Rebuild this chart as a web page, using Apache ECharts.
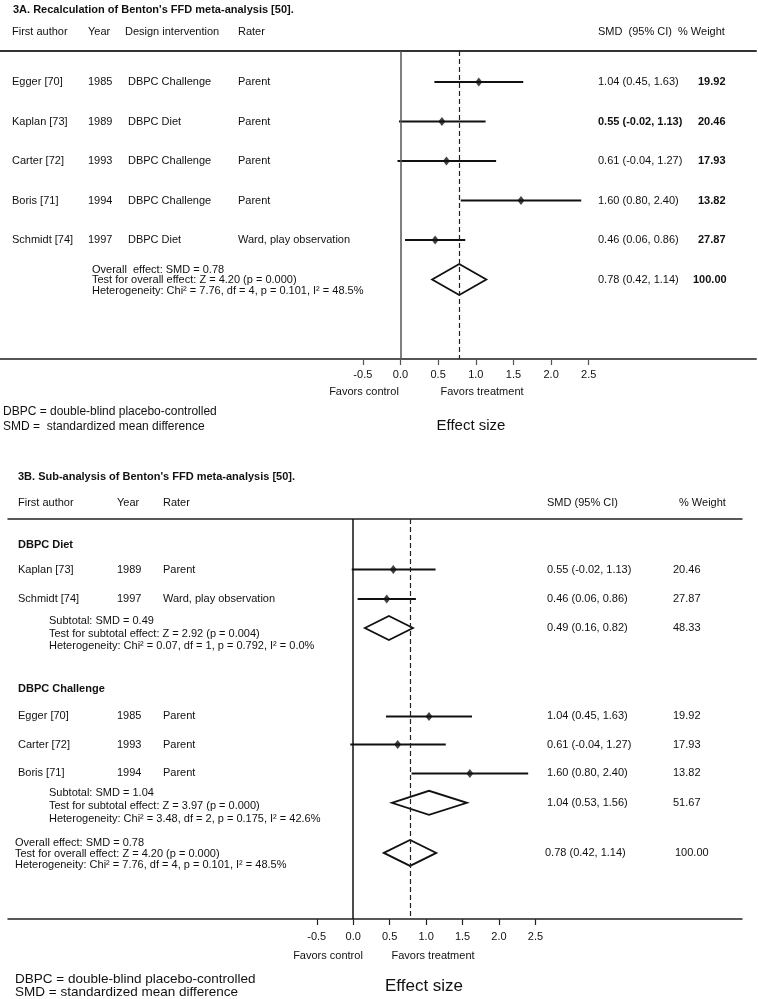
<!DOCTYPE html>
<html>
<head>
<meta charset="utf-8">
<script src="https://cdn.jsdelivr.net/npm/echarts@6/dist/echarts.min.js"></script>
<style>
  html, body { margin: 0; padding: 0; background: #fff; }
  #main { width: 758px; height: 999px; }
</style>
</head>
<body>
<div id="main"></div>
<script>
// ---- data: panel A (all five studies) ----
const authorsA = ['Egger [70]', 'Kaplan [73]', 'Carter [72]', 'Boris [71]', 'Schmidt [74]'];
const yearsA = ['1985', '1989', '1993', '1994', '1997'];
const designA = ['DBPC Challenge', 'DBPC Diet', 'DBPC Challenge', 'DBPC Challenge', 'DBPC Diet'];
const raterA = ['Parent', 'Parent', 'Parent', 'Parent', 'Ward, play observation'];
const smdA = [1.04, 0.55, 0.61, 1.60, 0.46];
const lowA = [0.45, -0.02, -0.04, 0.80, 0.06];
const highA = [1.63, 1.13, 1.27, 2.40, 0.86];
const weightA = ['19.92', '20.46', '17.93', '13.82', '27.87'];

// ---- data: panel B (grouped by design) ----
const groupsB = ['DBPC Diet', 'DBPC Challenge'];
const authorsB = ['Kaplan [73]', 'Schmidt [74]', 'Egger [70]', 'Carter [72]', 'Boris [71]'];
const yearsB = ['1989', '1997', '1985', '1993', '1994'];
const raterB = ['Parent', 'Ward, play observation', 'Parent', 'Parent', 'Parent'];
const smdB = [0.55, 0.46, 1.04, 0.61, 1.60];
const lowB = [-0.02, 0.06, 0.45, -0.04, 0.80];
const highB = [1.13, 0.86, 1.63, 1.27, 2.40];
const weightB = ['20.46', '27.87', '19.92', '17.93', '13.82'];
const subSmd = [0.49, 1.04];
const subLow = [0.16, 0.53];
const subHigh = [0.82, 1.56];
const subWeight = ['48.33', '51.67'];
const subStats = [
  ['Subtotal: SMD = 0.49', 'Test for subtotal effect: Z = 2.92 (p = 0.004)', 'Heterogeneity: Chi² = 0.07, df = 1, p = 0.792, I² = 0.0%'],
  ['Subtotal: SMD = 1.04', 'Test for subtotal effect: Z = 3.97 (p = 0.000)', 'Heterogeneity: Chi² = 3.48, df = 2, p = 0.175, I² = 42.6%']
];

// ---- overall pooled estimate (same in both panels) ----
const overallSmd = 0.78, overallLow = 0.42, overallHigh = 1.14, overallWeight = '100.00';
const overallStatsA = ['Overall  effect: SMD = 0.78', 'Test for overall effect: Z = 4.20 (p = 0.000)', 'Heterogeneity: Chi² = 7.76, df = 4, p = 0.101, I² = 48.5%'];
const overallStatsB = ['Overall effect: SMD = 0.78', 'Test for overall effect: Z = 4.20 (p = 0.000)', 'Heterogeneity: Chi² = 7.76, df = 4, p = 0.101, I² = 48.5%'];

const tickValues = [-0.5, 0, 0.5, 1, 1.5, 2, 2.5];

// ---- layout (pixels) ----
const LA = { left: 0, right: 756, top: 51, bottom: 359, zeroPx: 400.5, unitPx: 75.3, firstRow: 82, pitch: 39.5 };
const LB = { left: 8, right: 742, top: 519, bottom: 919, zeroPx: 353.2, unitPx: 72.9, firstRow: 569.5, pitch: 28.8 };
// row slots of panel B (in row pitches from first study)
const slotB = { dietHead: -0.85, studies: [0, 1.02, 5.1, 6.08, 7.08], subs: [2.03, 8.1], challHead: 4.15, overall: 9.84 };

const FONT = '"Liberation Sans", Arial, Helvetica, sans-serif';
const INK = '#111';

function xRange(L) {
  return [(L.left - L.zeroPx) / L.unitPx, (L.right - L.zeroPx) / L.unitPx];
}
function yRange(L) {
  return [(L.top - L.firstRow) / L.pitch, (L.bottom - L.firstRow) / L.pitch];
}

const chart = echarts.init(document.getElementById('main'), null, { renderer: 'canvas' });

function ciItem(params, api) {
  const y = api.value(2);
  const a = api.coord([api.value(0), y]);
  const b = api.coord([api.value(1), y]);
  return {
    type: 'line',
    shape: { x1: a[0], y1: a[1], x2: b[0], y2: b[1] },
    style: { stroke: INK, lineWidth: 2 }
  };
}
function diamondMaker(halfH) {
  return function (params, api) {
    const y = api.value(3);
    const c = api.coord([api.value(0), y]);
    const l = api.coord([api.value(1), y]);
    const r = api.coord([api.value(2), y]);
    return {
      type: 'polygon',
      shape: { points: [[l[0], l[1]], [c[0], c[1] - halfH], [r[0], r[1]], [c[0], c[1] + halfH]] },
      style: { fill: '#fff', stroke: INK, lineWidth: 1.8 }
    };
  };
}

function bottomAxis(gi, L, color, width, margin) {
  const r = xRange(L);
  return {
    type: 'value', gridIndex: gi, position: 'bottom', min: r[0], max: r[1],
    axisLine: { show: true, onZero: false, lineStyle: { color: color, width: width } },
    axisTick: { show: true, length: 6, customValues: tickValues, lineStyle: { color: color, width: 1.2 } },
    axisLabel: {
      show: true, customValues: tickValues, margin: margin,
      formatter: v => v.toFixed(1), color: INK, fontFamily: FONT, fontSize: 11
    },
    splitLine: { show: false }
  };
}
function topAxis(gi, L, color, width) {
  const r = xRange(L);
  return {
    type: 'value', gridIndex: gi, position: 'top', min: r[0], max: r[1],
    axisLine: { show: true, onZero: false, lineStyle: { color: color, width: width } },
    axisTick: { show: false }, axisLabel: { show: false }, splitLine: { show: false }
  };
}
function hiddenY(gi, L) {
  const r = yRange(L);
  return { type: 'value', gridIndex: gi, inverse: true, min: r[0], max: r[1], show: false, splitLine: { show: false } };
}
function refLines(zeroColor) {
  return {
    silent: true, symbol: ['none', 'none'], label: { show: false }, animation: false,
    data: [
      { xAxis: 0, lineStyle: { color: zeroColor, width: 1.5, type: 'solid' } },
      { xAxis: overallSmd, lineStyle: { color: '#222', width: 1.2, type: [5, 3] } }
    ]
  };
}

const rowsA = smdA.map((_, i) => i);
const overallRowA = smdA.length;

const option = {
  animation: false,
  grid: [
    { left: LA.left, width: LA.right - LA.left, top: LA.top, height: LA.bottom - LA.top },
    { left: LB.left, width: LB.right - LB.left, top: LB.top, height: LB.bottom - LB.top }
  ],
  xAxis: [
    bottomAxis(0, LA, '#555', 2, 10),
    topAxis(0, LA, '#333', 2),
    bottomAxis(1, LB, '#222', 1.5, 12),
    topAxis(1, LB, '#222', 1.5)
  ],
  yAxis: [hiddenY(0, LA), hiddenY(1, LB)],
  series: [
    {
      type: 'custom', xAxisIndex: 0, yAxisIndex: 0, renderItem: ciItem,
      data: rowsA.map(i => [lowA[i], highA[i], i]), silent: true
    },
    {
      type: 'scatter', xAxisIndex: 0, yAxisIndex: 0, symbol: 'diamond', symbolSize: [7, 9],
      itemStyle: { color: INK }, data: rowsA.map(i => [smdA[i], i]), silent: true,
      markLine: refLines('#555')
    },
    {
      type: 'custom', xAxisIndex: 0, yAxisIndex: 0, renderItem: diamondMaker(15.5),
      data: [[overallSmd, overallLow, overallHigh, overallRowA]], silent: true
    },
    {
      type: 'custom', xAxisIndex: 2, yAxisIndex: 1, renderItem: ciItem,
      data: smdB.map((_, i) => [lowB[i], highB[i], slotB.studies[i]]), silent: true
    },
    {
      type: 'scatter', xAxisIndex: 2, yAxisIndex: 1, symbol: 'diamond', symbolSize: [7, 9],
      itemStyle: { color: INK }, data: smdB.map((v, i) => [v, slotB.studies[i]]), silent: true,
      markLine: refLines('#111')
    },
    {
      type: 'custom', xAxisIndex: 2, yAxisIndex: 1, renderItem: diamondMaker(12),
      data: subSmd.map((v, g) => [v, subLow[g], subHigh[g], slotB.subs[g]]), silent: true
    },
    {
      type: 'custom', xAxisIndex: 2, yAxisIndex: 1, renderItem: diamondMaker(13),
      data: [[overallSmd, overallLow, overallHigh, slotB.overall]], silent: true
    }
  ]
};
chart.setOption(option);

// ---- texts (table columns, titles, notes) ----
function txt(x, y, s, o) {
  o = o || {};
  return {
    type: 'text', x: x, y: y, silent: true,
    style: {
      text: s, fill: INK,
      font: (o.bold ? 'bold ' : '') + (o.size || 11) + 'px ' + FONT,
      textAlign: o.align || 'left', textVerticalAlign: 'middle'
    }
  };
}
const fmtCI = (m, l, h) => m.toFixed(2) + ' (' + l.toFixed(2) + ', ' + h.toFixed(2) + ')';
const yA = r => chart.convertToPixel({ yAxisIndex: 0 }, r);
const yB = r => chart.convertToPixel({ yAxisIndex: 1 }, r);

const g = [];
// panel A header
g.push(txt(13, 10, "3A. Recalculation of Benton's FFD meta-analysis [50].", { bold: true }));
g.push(txt(12, 32, 'First author'), txt(88, 32, 'Year'), txt(125, 32, 'Design intervention'),
  txt(238, 32, 'Rater'), txt(598, 32, 'SMD  (95% CI)'), txt(678, 32, '% Weight'));
rowsA.forEach(i => {
  const y = yA(i);
  g.push(txt(12, y, authorsA[i]), txt(88, y, yearsA[i]), txt(128, y, designA[i]), txt(238, y, raterA[i]));
  g.push(txt(598, y, fmtCI(smdA[i], lowA[i], highA[i]), { bold: i === 1 }));
  g.push(txt(698, y, weightA[i], { bold: true }));
});
const yo = yA(overallRowA);
[-10, 0.5, 11].forEach((d, k) => g.push(txt(92, yo + d, overallStatsA[k], { size: 11 })));
g.push(txt(598, yo, fmtCI(overallSmd, overallLow, overallHigh)), txt(693, yo, overallWeight, { bold: true }));
g.push(txt(364, 392, 'Favors control', { align: 'center' }), txt(482, 392, 'Favors treatment', { align: 'center' }));
g.push(txt(3, 412, 'DBPC = double-blind placebo-controlled', { size: 12 }),
  txt(3, 427, 'SMD =  standardized mean difference', { size: 12 }));
g.push(txt(471, 426, 'Effect size', { size: 15, align: 'center' }));

// panel B header
g.push(txt(18, 477, "3B. Sub-analysis of Benton's FFD meta-analysis [50].", { bold: true }));
g.push(txt(18, 503, 'First author'), txt(117, 503, 'Year'), txt(163, 503, 'Rater'),
  txt(547, 503, 'SMD (95% CI)'), txt(679, 503, '% Weight'));
g.push(txt(18, yB(slotB.dietHead), groupsB[0], { bold: true }));
g.push(txt(18, yB(slotB.challHead), groupsB[1], { bold: true }));
smdB.forEach((v, i) => {
  const y = yB(slotB.studies[i]);
  g.push(txt(18, y, authorsB[i]), txt(117, y, yearsB[i]), txt(163, y, raterB[i]));
  g.push(txt(547, y, fmtCI(v, lowB[i], highB[i])), txt(673, y, weightB[i]));
});
const subOffsets = [[-6.5, 6, 18.5], [-10, 3, 16]];
subSmd.forEach((v, k) => {
  const y = yB(slotB.subs[k]);
  subStats[k].forEach((s, j) => g.push(txt(49, y + subOffsets[k][j], s)));
  g.push(txt(547, y, fmtCI(v, subLow[k], subHigh[k])), txt(673, y, subWeight[k]));
});
const yob = yB(slotB.overall);
[-9.5, 1.5, 12.5].forEach((d, k) => g.push(txt(15, yob + d, overallStatsB[k])));
g.push(txt(545, yob, fmtCI(overallSmd, overallLow, overallHigh)), txt(675, yob, overallWeight));
g.push(txt(328, 956, 'Favors control', { align: 'center' }), txt(433, 956, 'Favors treatment', { align: 'center' }));
g.push(txt(15, 979, 'DBPC = double-blind placebo-controlled', { size: 13.5 }),
  txt(15, 992, 'SMD = standardized mean difference', { size: 13.5 }));
g.push(txt(424, 986, 'Effect size', { size: 17, align: 'center' }));

chart.setOption({ graphic: { elements: g } });
</script>
</body>
</html>
